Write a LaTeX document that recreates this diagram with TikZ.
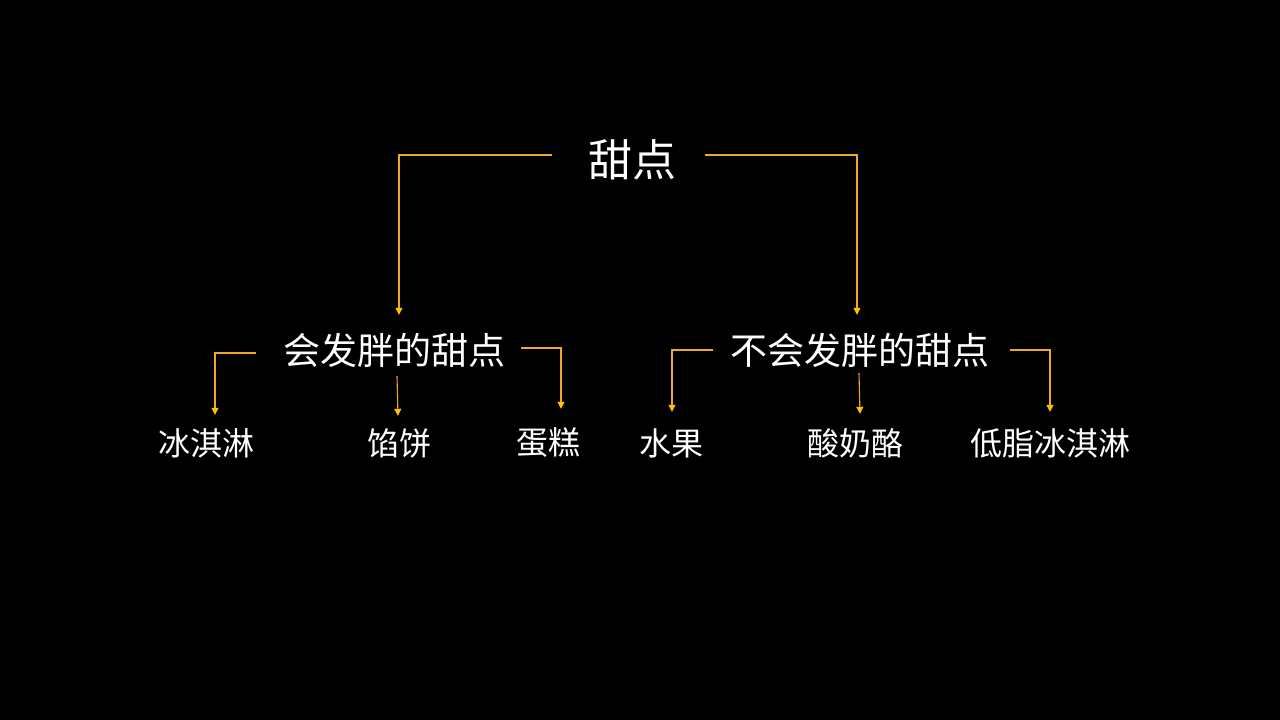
\documentclass[tikz,border=0pt]{standalone}
\usepackage{fontspec}
\newfontfamily\cjk{Noto Sans CJK SC}
\usetikzlibrary{arrows.meta}
\definecolor{linec}{HTML}{EDAA2A}
\definecolor{tipc}{HTML}{FFC000}
\tikzset{
  lbl/.style={text=white, inner sep=0pt},
  top/.style={lbl, font=\cjk\fontsize{44pt}{48pt}\selectfont, text height=38.7pt, text depth=5.3pt},
  mid/.style={lbl, font=\cjk\fontsize{37pt}{40pt}\selectfont, text height=32.6pt, text depth=4.4pt},
  leaf/.style={lbl, font=\cjk\fontsize{32pt}{36pt}\selectfont, text height=28.2pt, text depth=3.8pt},
  conn/.style={draw=linec, line width=1.1pt, -{Triangle[length=7pt,width=7pt,color=tipc]}}
}
\begin{document}
\begin{tikzpicture}[x=1pt,y=-1pt]
\fill[black] (0,0) rectangle (1280,720);
\useasboundingbox (0,0) rectangle (1280,720);

\node[top]  (root) at (632,160) {甜点};
\node[mid]  (l1)   at (394,350) {会发胖的甜点};
\node[mid]  (r1)   at (860,350) {不会发胖的甜点};
\node[leaf] (a)    at (206,443) {冰淇淋};
\node[leaf] (b)    at (399,443) {馅饼};
\node[leaf] (c)    at (548,442) {蛋糕};
\node[leaf] (d)    at (671,443) {水果};
\node[leaf] (e)    at (855,443) {酸奶酪};
\node[leaf] (f)    at (1050,443) {低脂冰淇淋};

\draw[conn] ([xshift=-36pt,yshift=5pt]root.west) -| ([xshift=5pt,yshift=16.5pt]l1.north);
\draw[conn] ([xshift=29pt,yshift=5pt]root.east) -| ([xshift=-3pt,yshift=16.5pt]r1.north);

\draw[conn] ([xshift=-27pt,yshift=-3pt]l1.west) -| ([xshift=9pt,yshift=12pt]a.north);
\draw[conn] ([xshift=3pt,yshift=-7.5pt]l1.south) -- ([xshift=-1pt,yshift=11pt]b.north);
\draw[conn] ([xshift=16pt,yshift=2pt]l1.east) -| ([xshift=13pt,yshift=17pt]c.north);

\draw[conn] ([xshift=-17.5pt]r1.west) -| ([xshift=1pt,yshift=15pt]d.north);
\draw[conn] ([xshift=-1pt,yshift=-4.5pt]r1.south) -- ([xshift=5pt,yshift=13pt]e.north);
\draw[conn] ([xshift=20.5pt]r1.east) -| ([yshift=15pt]f.north);
\end{tikzpicture}
\end{document}
